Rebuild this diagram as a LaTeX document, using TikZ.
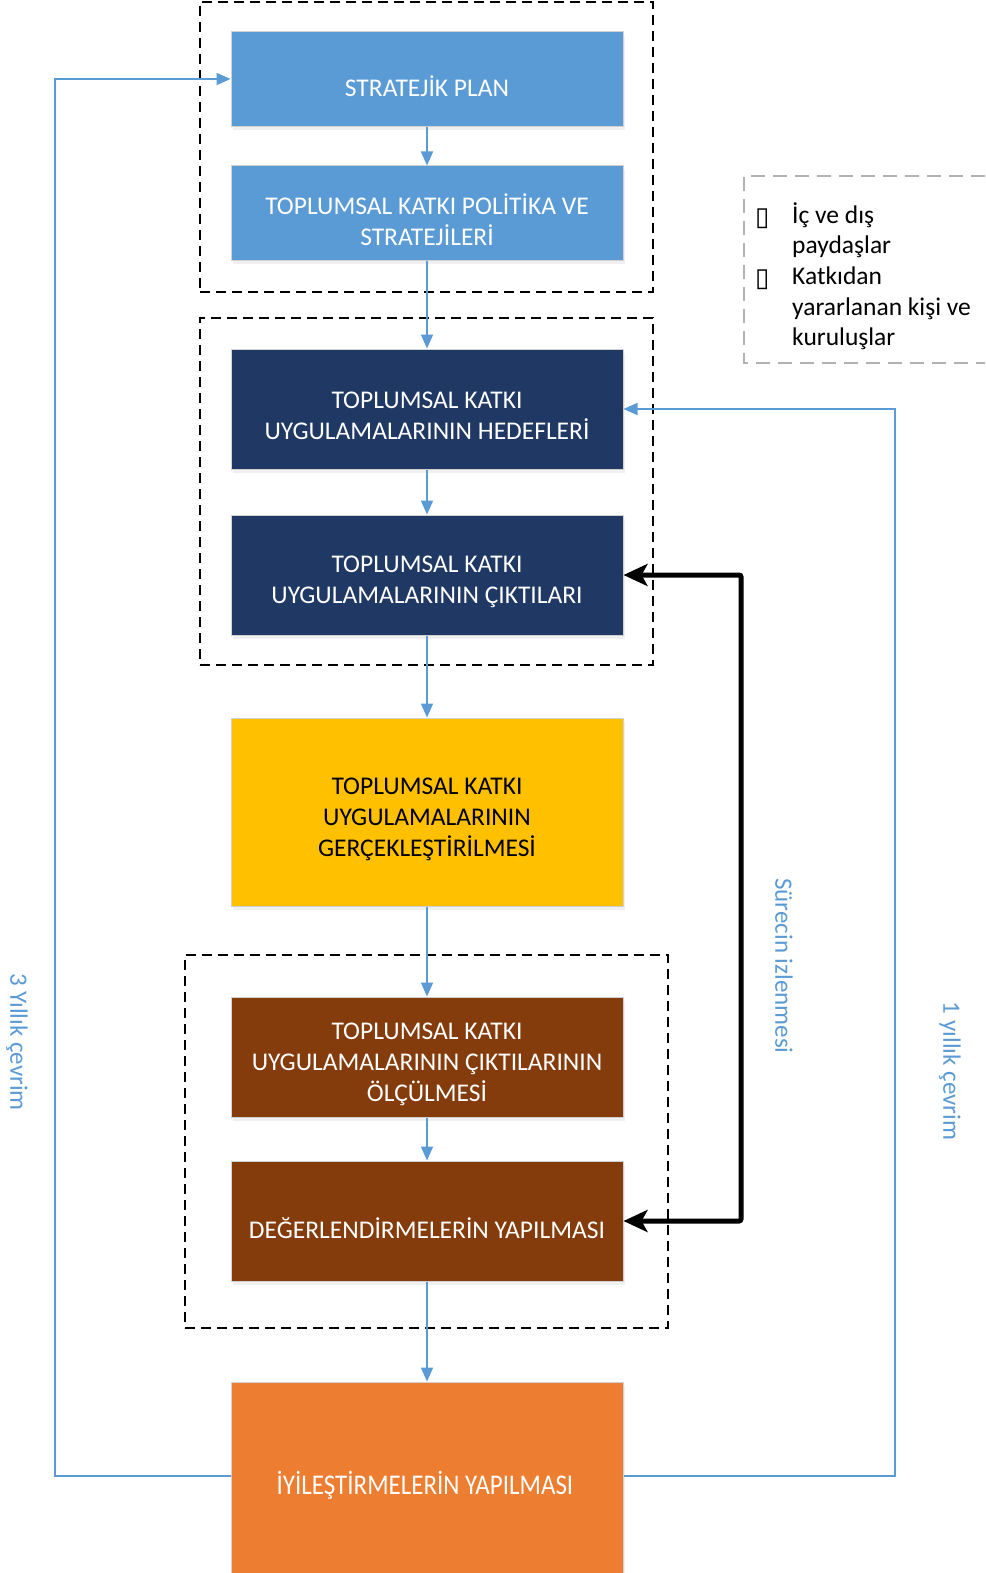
\documentclass[tikz,border=0pt]{standalone}
\usepackage{fontspec}
\setmainfont{Carlito}
\newfontfamily\dejavu{DejaVu Sans}
\usetikzlibrary{arrows.meta,shadows}
\definecolor{cblue}{HTML}{5B9BD5}
\definecolor{cnavy}{HTML}{203864}
\definecolor{cyel}{HTML}{FFC000}
\definecolor{cbrown}{HTML}{843C0C}
\definecolor{corange}{HTML}{ED7D31}
\begin{document}
\begin{tikzpicture}[x=1bp,y=-1bp,
  box/.style={draw=black!18,line width=1bp,minimum width=392bp,inner sep=0pt,
    drop shadow={opacity=0.12,shadow xshift=2bp,shadow yshift=-4bp}},
  txt/.style={inner sep=0pt,align=center,font=\fontsize{25.5bp}{31bp}\selectfont,yshift=-7bp},
  grp/.style={draw=black,line width=1.4bp,dash pattern=on 10bp off 6bp},
  flow/.style={draw=cblue,line width=1.8bp,-{Triangle[length=14bp,width=12bp]}},
  loop/.style={draw=cblue,line width=1.8bp},
  mon/.style={draw=black,line width=5bp,rounded corners=2bp},
  sidelbl/.style={text=cblue,font=\fontsize{25bp}{30bp}\selectfont,rotate=-90,inner sep=0pt},
  lgd/.style={font=\fontsize{25.5bp}{30.5bp}\selectfont,inner sep=0pt,anchor=west,align=left}]
\useasboundingbox (0,0) rectangle (985,1573);
% groups
\node[grp,minimum width=453bp,minimum height=290bp,inner sep=0pt] (g1) at (426.5,147) {};
\node[grp,minimum width=453bp,minimum height=347bp,inner sep=0pt] (g2) at (426.5,491.5) {};
\node[grp,minimum width=483bp,minimum height=373bp,inner sep=0pt] (g3) at (426.5,1141.5) {};
% boxes
\node[box,fill=cblue,minimum height=94bp] (b1) at (427,79) {};
\node[box,fill=cblue,minimum height=94bp] (b2) at (427,213) {};
\node[box,fill=cnavy,minimum height=120bp] (b3) at (427,409) {};
\node[box,fill=cnavy,minimum height=120bp] (b4) at (427,575) {};
\node[box,fill=cyel,minimum height=188bp] (b5) at (427,812) {};
\node[box,fill=cbrown,minimum height=120bp] (b6) at (427,1057) {};
\node[box,fill=cbrown,minimum height=120bp] (b7) at (427,1221) {};
\node[box,fill=corange,minimum height=200bp] (b8) at (427,1482) {};
% box texts
\node[txt,text=white] (b1t) at (b1.center) {STRATEJİK PLAN};
\node[txt,text=white] (b2t) at (b2.center) {TOPLUMSAL KATKI POLİTİKA VE\\STRATEJİLERİ};
\node[txt,text=white] (b3t) at (b3.center) {TOPLUMSAL KATKI\\UYGULAMALARININ HEDEFLERİ};
\node[txt,text=white] (b4t) at (b4.center) {TOPLUMSAL KATKI\\UYGULAMALARININ ÇIKTILARI};
\node[txt,text=black] (b5t) at (b5.center) {TOPLUMSAL KATKI\\UYGULAMALARININ\\GERÇEKLEŞTİRİLMESİ};
\node[txt,text=white] (b6t) at (b6.center) {TOPLUMSAL KATKI\\UYGULAMALARININ ÇIKTILARININ\\ÖLÇÜLMESİ};
\node[txt,text=white] (b7t) at (b7.center) {DEĞERLENDİRMELERİN YAPILMASI};
\node[txt,text=white,yshift=4bp] (b8t) at ([xshift=-2bp]b8.center) {\scalebox{0.98}[1.12]{İYİLEŞTİRMELERİN YAPILMASI}};
% flow arrows
\draw[flow] (b1) -- (b2);
\draw[flow] (b2) -- (b3);
\draw[flow] (b3) -- (b4);
\draw[flow] (b4) -- (b5);
\draw[flow] (b5) -- (b6);
\draw[flow] (b6) -- (b7);
\draw[flow] (b7) -- (b8);
% loops
\coordinate (lL) at (55,1476);
\coordinate (lR) at (895,1476);
\draw[loop,-{Triangle[length=14bp,width=12bp]}] (b8.west |- lL) -- (lL) |- (b1.west);
\draw[loop,-{Triangle[length=14bp,width=12bp]}] (b8.east |- lR) -- (lR) |- (b3.east);
% monitoring
\coordinate (m1) at (741,575);
\coordinate (m2) at (741,1221);
\draw[mon,{Stealth[length=24bp,width=22bp,inset=6bp]}-{Stealth[length=24bp,width=22bp,inset=6bp]}] (b4.east) -- (m1) -- (m2) -- (b7.east);
% side labels
\node[sidelbl] (s3) at (17,1042) {3 Yıllık çevrim};
\node[sidelbl] (si) at (784,966) {Sürecin izlenmesi};
\node[sidelbl] (s1) at (950,1071) {1 yıllık çevrim};
% legend
\draw[draw=black!30,line width=1.2bp,dash pattern=on 14bp off 8bp] (985,176) -- (744,176) -- (744,363) -- (985,363);
\node[lgd] (bu1) at (755,219) {{\dejavu\fontsize{26bp}{26bp}\selectfont ▯}};
\node[lgd] (bu2) at (755,280) {{\dejavu\fontsize{26bp}{26bp}\selectfont ▯}};
\node[lgd,anchor=north west] (t1) at (792,202) {İç ve dış\\paydaşlar};
\node[lgd,anchor=north west] (t2) at (792,267) {Katkıdan\\yararlanan kişi ve\\kuruluşlar};
\end{tikzpicture}
\end{document}
